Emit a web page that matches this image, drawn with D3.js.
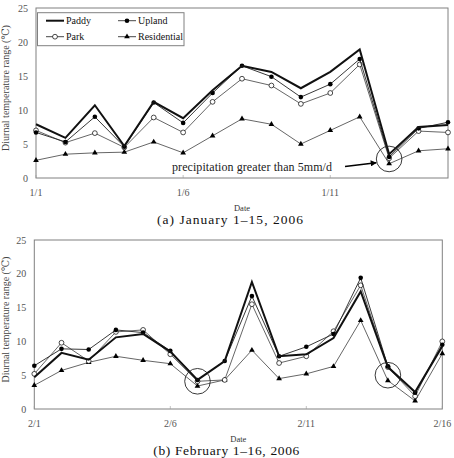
<!DOCTYPE html>
<html>
<head>
<meta charset="utf-8">
<script src="https://cdn.jsdelivr.net/npm/d3@7"></script>
<style>
  body { margin: 0; background: #fff; }
  svg { display: block; }
  text { font-family: "Liberation Serif", "DejaVu Serif", serif; }
</style>
</head>
<body>
<div id="chart"></div>
<script>
// panel (a) January 1-15, 2006
var janDays = [1, 2, 3, 4, 5, 6, 7, 8, 9, 10, 11, 12, 13, 14, 15]
var janPaddy = [7.9, 5.9, 10.7, 4.7, 11.2, 8.8, 12.9, 16.5, 15.6, 13.2, 15.6, 18.9, 3.5, 7.5, 7.8]
var janUpland = [6.7, 5.3, 9.0, 4.6, 11.1, 8.1, 12.5, 16.5, 14.9, 11.9, 13.8, 17.5, 3.1, 7.3, 8.2]
var janPark = [7.0, 5.2, 6.6, 4.5, 8.9, 6.7, 11.2, 14.6, 13.6, 10.9, 12.5, 16.7, 2.9, 6.9, 6.7]
var janResidential = [2.6, 3.5, 3.7, 3.8, 5.3, 3.7, 6.2, 8.7, 7.9, 5.0, 7.0, 9.0, 2.1, 4.0, 4.3]
var janTicks = [1, 6, 11]
var janTickLabels = ['1/1', '1/6', '1/11']
var janMarks = [{ day: 13, value: 2.8 }]

// panel (b) February 1-16, 2006
var febDays = [1, 2, 3, 4, 5, 6, 7, 8, 9, 10, 11, 12, 13, 14, 15, 16]
var febPaddy = [4.7, 8.3, 7.3, 10.6, 11.1, 8.5, 4.3, 7.1, 18.8, 7.8, 8.1, 10.5, 17.4, 6.2, 2.5, 9.3]
var febUpland = [6.4, 8.9, 8.8, 11.7, 11.3, 8.6, 4.3, 7.1, 16.7, 7.8, 9.2, 11.1, 19.4, 6.3, 2.4, 9.5]
var febPark = [5.2, 9.8, 7.1, 11.4, 11.7, 8.1, 4.1, 4.3, 15.5, 6.8, 7.8, 11.5, 18.3, 6.2, 1.9, 10.0]
var febResidential = [3.5, 5.7, 6.9, 7.8, 7.2, 6.7, 3.4, 4.3, 8.7, 4.5, 5.2, 6.3, 13.1, 4.2, 1.2, 8.2]
var febTicks = [1, 6, 11, 16]
var febTickLabels = ['2/1', '2/6', '2/11', '2/16']
var febMarks = [{ day: 7, value: 4.1 }, { day: 14, value: 5.0 }]

var yTicks = [0, 5, 10, 15, 20, 25]
var seriesNames = ['Paddy', 'Upland', 'Park', 'Residential']

var width = 454
var height = 458

var svg = d3.select('#chart')
  .append('svg')
  .attr('width', width)
  .attr('height', height)

svg.append('defs').append('marker')
  .attr('id', 'arrow')
  .attr('viewBox', '0 0 10 10')
  .attr('refX', 9)
  .attr('refY', 5)
  .attr('markerWidth', 9)
  .attr('markerHeight', 6)
  .attr('markerUnits', 'userSpaceOnUse')
  .attr('orient', 'auto')
  .append('path')
  .attr('d', 'M0,0L10,5L0,10z')
  .attr('fill', '#000')

drawPanel({
  left: 36, right: 448, top: 8, bottom: 178,
  days: janDays,
  series: [janPaddy, janUpland, janPark, janResidential],
  ticks: janTicks, tickLabels: janTickLabels,
  marks: janMarks, markR: 12.8,
  title: '(a) January 1\u201315, 2006',
  legend: true, note: true
})

drawPanel({
  left: 34.3, right: 442.3, top: 240, bottom: 409,
  days: febDays,
  series: [febPaddy, febUpland, febPark, febResidential],
  ticks: febTicks, tickLabels: febTickLabels,
  marks: febMarks, markR: 12.8,
  title: '(b) February 1\u201316, 2006',
  legend: false, note: false
})

function drawPanel(p) {
  var x = d3.scaleLinear()
    .domain([p.days[0], p.days[p.days.length - 1]])
    .range([p.left, p.right])
  var y = d3.scaleLinear()
    .domain([0, 25])
    .range([p.bottom, p.top])

  var g = svg.append('g')

  //frame
  g.append('rect')
    .attr('x', p.left)
    .attr('y', p.top)
    .attr('width', p.right - p.left)
    .attr('height', p.bottom - p.top)
    .attr('fill', 'none')
    .attr('stroke', '#808080')
    .attr('stroke-width', 1)

  //y axis labels
  g.selectAll('.ylab')
    .data(yTicks)
    .enter()
    .append('text')
    .attr('x', p.left - 8)
    .attr('y', function(d) { return y(d) + 3.5 })
    .attr('text-anchor', 'end')
    .attr('font-size', 10)
    .attr('fill', '#555')
    .text(function(d) { return d })

  //x ticks
  g.selectAll('.xtick')
    .data(p.ticks)
    .enter()
    .append('line')
    .attr('x1', function(d) { return x(d) })
    .attr('x2', function(d) { return x(d) })
    .attr('y1', p.bottom)
    .attr('y2', p.bottom - 3)
    .attr('stroke', '#999')
    .attr('stroke-width', 0.6)

  g.selectAll('.xlab')
    .data(p.ticks)
    .enter()
    .append('text')
    .attr('x', function(d) { return x(d) })
    .attr('y', p.bottom + 18)
    .attr('text-anchor', 'middle')
    .attr('font-size', 10)
    .attr('fill', '#555')
    .text(function(d, i) { return p.tickLabels[i] })

  g.append('text')
    .attr('x', (p.left + p.right) / 2)
    .attr('y', p.bottom + 33)
    .attr('text-anchor', 'middle')
    .attr('font-size', 8.5)
    .attr('fill', '#333')
    .text('Date')

  g.append('text')
    .attr('x', (p.left + p.right) / 2 - 12)
    .attr('y', p.bottom + 46)
    .attr('text-anchor', 'middle')
    .attr('font-size', 13.5)
    .attr('textLength', 146)
    .attr('lengthAdjust', 'spacing')
    .attr('fill', '#111')
    .text(p.title)

  g.append('text')
    .attr('transform', 'translate(' + 9 + ',' + ((p.top + p.bottom) / 2 - 5) + ')rotate(-90)')
    .attr('text-anchor', 'middle')
    .attr('font-size', 10)
    .attr('fill', '#444')
    .text('Diurnal temperature range (\u2103)')

  var line = d3.line()
    .x(function(d, i) { return x(p.days[i]) })
    .y(function(d) { return y(d) })

  // draw residential, park, upland then paddy on top
  drawSeries(g, line, x, y, p.days, p.series[3], 'triangle')
  drawSeries(g, line, x, y, p.days, p.series[2], 'open')
  drawSeries(g, line, x, y, p.days, p.series[1], 'dot')
  drawSeries(g, line, x, y, p.days, p.series[0], 'thick')

  //highlight circles
  g.selectAll('.mark')
    .data(p.marks)
    .enter()
    .append('circle')
    .attr('cx', function(d) { return x(d.day) })
    .attr('cy', function(d) { return y(d.value) })
    .attr('r', p.markR)
    .attr('fill', 'none')
    .attr('stroke', '#222')
    .attr('stroke-width', 0.9)

  if (p.legend) drawLegend(g, p)
  if (p.note) {
    var m = p.marks[0]
    g.append('text')
      .attr('x', 172)
      .attr('y', p.bottom - 7)
      .attr('font-size', 12)
      .attr('textLength', 160)
      .attr('lengthAdjust', 'spacing')
      .attr('fill', '#222')
      .text('precipitation greater than 5mm/d')
    g.append('line')
      .attr('x1', 345)
      .attr('y1', y(1.7))
      .attr('x2', x(m.day) - 13)
      .attr('y2', y(2.25))
      .attr('stroke', '#000')
      .attr('stroke-width', 1.4)
      .attr('marker-end', 'url(#arrow)')
  }
}

function drawSeries(g, line, x, y, days, values, kind) {
  g.append('path')
    .datum(values)
    .attr('d', line)
    .attr('fill', 'none')
    .attr('stroke', kind === 'thick' ? '#111' : (kind === 'dot' ? '#222' : '#555'))
    .attr('stroke-width', kind === 'thick' ? 2 : 0.9)

  if (kind === 'thick') return
  drawMarkers(g, values.map(function(v, i) { return [x(days[i]), y(v)] }), kind)
}

function drawMarkers(g, pts, kind) {
  if (kind === 'triangle') {
    g.selectAll(null)
      .data(pts)
      .enter()
      .append('path')
      .attr('transform', function(d) { return 'translate(' + d[0] + ',' + d[1] + ')' })
      .attr('d', d3.symbol().type(d3.symbolTriangle).size(14))
      .attr('fill', '#000')
  } else {
    g.selectAll(null)
      .data(pts)
      .enter()
      .append('circle')
      .attr('cx', function(d) { return d[0] })
      .attr('cy', function(d) { return d[1] })
      .attr('r', kind === 'open' ? 2.4 : 2.3)
      .attr('fill', kind === 'open' ? '#fff' : '#000')
      .attr('stroke', '#000')
      .attr('stroke-width', kind === 'open' ? 0.7 : 0)
  }
}

function drawLegend(g, p) {
  var lg = g.append('g')
  lg.append('rect')
    .attr('x', 37.5)
    .attr('y', 12.7)
    .attr('width', 146.5)
    .attr('height', 33)
    .attr('fill', '#fff')
    .attr('stroke', '#808080')
    .attr('stroke-width', 1)

  var items = [
    { name: seriesNames[0], kind: 'thick', x: 46, y: 20.7 },
    { name: seriesNames[1], kind: 'dot', x: 118, y: 20.7 },
    { name: seriesNames[2], kind: 'open', x: 46, y: 36.7 },
    { name: seriesNames[3], kind: 'triangle', x: 118, y: 36.7 }
  ]
  items.forEach(function(it) {
    lg.append('line')
      .attr('x1', it.x)
      .attr('x2', it.x + 18)
      .attr('y1', it.y)
      .attr('y2', it.y)
      .attr('stroke', it.kind === 'thick' ? '#111' : '#333')
      .attr('stroke-width', it.kind === 'thick' ? 2 : 0.9)
    if (it.kind !== 'thick') drawMarkers(lg, [[it.x + 9, it.y]], it.kind)
    lg.append('text')
      .attr('x', it.x + 20)
      .attr('y', it.y + 3.5)
      .attr('font-size', 10)
      .attr('fill', '#111')
      .text(it.name)
  })
}
</script>
</body>
</html>
